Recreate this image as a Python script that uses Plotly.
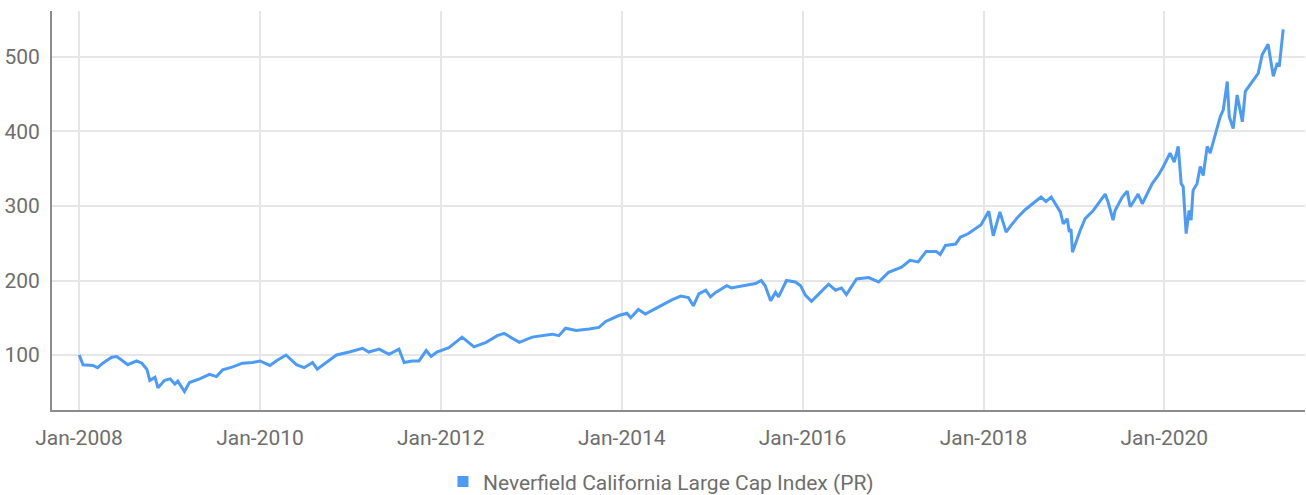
import plotly.graph_objects as go

dates = [
    "2008-01-02", "2008-01-17", "2008-02-26", "2008-03-16", "2008-04-06", "2008-05-12",
    "2008-06-02", "2008-06-22", "2008-07-16", "2008-08-21", "2008-09-11", "2008-10-01",
    "2008-10-13", "2008-11-03", "2008-11-15", "2008-12-12", "2009-01-03", "2009-01-22",
    "2009-02-03", "2009-03-02", "2009-03-22", "2009-05-02", "2009-06-11", "2009-07-09",
    "2009-08-03", "2009-09-13", "2009-10-22", "2009-12-02", "2010-01-01", "2010-02-10",
    "2010-03-07", "2010-04-16", "2010-05-28", "2010-06-28", "2010-08-01", "2010-08-20",
    "2010-09-26", "2010-11-06", "2010-12-28", "2011-02-19", "2011-03-16", "2011-04-27",
    "2011-06-06", "2011-07-16", "2011-08-06", "2011-09-07", "2011-10-05", "2011-11-03",
    "2011-11-23", "2011-12-16", "2012-02-03", "2012-03-27", "2012-05-14", "2012-07-02",
    "2012-08-16", "2012-09-13", "2012-11-13", "2013-01-04", "2013-03-25", "2013-04-22",
    "2013-05-19", "2013-07-01", "2013-08-22", "2013-10-01", "2013-10-28", "2013-12-20",
    "2014-01-22", "2014-02-06", "2014-03-09", "2014-04-06", "2014-06-01", "2014-07-22",
    "2014-08-27", "2014-09-27", "2014-10-17", "2014-11-08", "2014-12-06", "2014-12-25",
    "2015-01-15", "2015-03-01", "2015-03-19", "2015-05-15", "2015-06-25", "2015-07-18",
    "2015-08-03", "2015-08-25", "2015-09-14", "2015-09-26", "2015-10-28", "2015-12-03",
    "2015-12-24", "2016-01-13", "2016-02-06", "2016-03-13", "2016-04-15", "2016-05-13",
    "2016-06-06", "2016-06-26", "2016-08-06", "2016-09-24", "2016-11-03", "2016-12-13",
    "2017-02-04", "2017-03-10", "2017-04-12", "2017-05-14", "2017-06-24", "2017-07-10",
    "2017-07-31", "2017-09-10", "2017-09-29", "2017-11-01", "2017-12-22", "2018-01-22",
    "2018-02-09", "2018-03-08", "2018-04-02", "2018-04-22", "2018-05-19", "2018-06-18",
    "2018-07-12", "2018-08-21", "2018-09-10", "2018-10-01", "2018-11-07", "2018-11-19",
    "2018-12-05", "2018-12-13", "2018-12-20", "2018-12-26", "2019-01-26", "2019-02-15",
    "2019-03-20", "2019-04-05", "2019-05-07", "2019-05-19", "2019-06-08", "2019-06-16",
    "2019-07-15", "2019-08-04", "2019-08-16", "2019-08-28", "2019-09-17", "2019-10-04",
    "2019-10-24", "2019-11-13", "2019-12-07", "2019-12-28", "2020-01-24", "2020-02-10",
    "2020-02-26", "2020-03-09", "2020-03-17", "2020-03-29", "2020-04-10", "2020-04-18",
    "2020-04-26", "2020-05-12", "2020-05-25", "2020-06-06", "2020-06-22", "2020-07-04",
    "2020-07-24", "2020-08-14", "2020-08-26", "2020-09-11", "2020-09-19", "2020-10-05",
    "2020-10-21", "2020-11-11", "2020-11-23", "2020-12-21", "2021-01-14", "2021-01-30",
    "2021-02-23", "2021-03-16", "2021-04-01", "2021-04-09", "2021-04-25",
]

index_values = [
    100, 87, 86, 83, 89, 97,
    98, 93, 87, 92, 89, 81,
    66, 70, 56, 66, 68, 61,
    65, 51, 63, 68, 74, 71,
    80, 84, 89, 90, 92, 86,
    92, 100, 87, 83, 90, 81,
    90, 100, 104, 109, 104, 108,
    101, 108, 90, 92, 92, 106,
    98, 104, 110, 124, 111, 117,
    126, 129, 117, 124, 128, 126,
    136, 133, 135, 137, 145, 153,
    156, 150, 161, 155, 165, 174,
    179, 177, 166, 182, 187, 178,
    184, 193, 190, 193, 196, 200,
    193, 173, 184, 178, 200, 198,
    193, 180, 172, 184, 195, 187,
    190, 181, 202, 204, 198, 211,
    218, 227, 225, 239, 239, 235,
    247, 249, 258, 263, 275, 293,
    260, 292, 265, 274, 285, 295,
    301, 312, 306, 312, 292, 276,
    283, 265, 269, 238, 267, 283,
    294, 301, 316, 305, 281, 294,
    312, 320, 299, 305, 316, 303,
    317, 330, 341, 353, 371, 359,
    380, 330, 326, 263, 294, 281,
    321, 330, 353, 341, 380, 371,
    395, 420, 429, 467, 420, 404,
    449, 413, 454, 467, 478, 503,
    517, 474, 492, 487, 537,
]

series_name = "Neverfield California Large Cap Index (PR)"
line_color = "#4d9bf9"
y_ticks = [100, 200, 300, 400, 500]

FONT = "Roboto"
TEXT = "#6e6e6e"

fig = go.Figure()
fig.add_trace(go.Scatter(
    x=dates, y=index_values, mode="lines", name=series_name,
    line=dict(color=line_color, width=3), showlegend=False,
))
fig.add_trace(go.Scatter(
    x=[None], y=[None], mode="markers", name=series_name,
    marker=dict(symbol="square", size=11, color=line_color), showlegend=True,
))

fig.update_layout(
    width=1306, height=495,
    margin=dict(l=52, r=1, t=11, b=85, autoexpand=False),
    paper_bgcolor="white", plot_bgcolor="white",
    font=dict(family=FONT, size=21, color=TEXT),
    legend=dict(orientation="h", x=0.486, xanchor="center", y=-0.18, yanchor="middle",
                font=dict(family=FONT, size=21, color=TEXT), itemwidth=30),
    xaxis=dict(
        type="date", range=["2007-09-14", "2021-07-22"], automargin=False,
        tick0="2008-01-01", dtick="M24", tickformat="%b-%Y",
        showgrid=True, gridcolor="#e6e6e6", gridwidth=2,
        showline=True, linecolor="#8c8c8c", linewidth=2,
        ticks="", ticklabelstandoff=8, zeroline=False,
        tickfont=dict(family=FONT, size=21, color=TEXT),
    ),
    yaxis=dict(
        range=[26.2, 561.7], tickvals=y_ticks, automargin=False,
        showgrid=True, gridcolor="#e6e6e6", gridwidth=2,
        showline=True, linecolor="#8c8c8c", linewidth=2,
        ticks="", ticklabelstandoff=6, zeroline=False,
        tickfont=dict(family=FONT, size=21, color=TEXT),
    ),
)

fig.write_html(
    "out.html",
    config={"displayModeBar": False},
    post_script="document.body.style.margin='0';document.body.style.overflow='hidden';",
)
